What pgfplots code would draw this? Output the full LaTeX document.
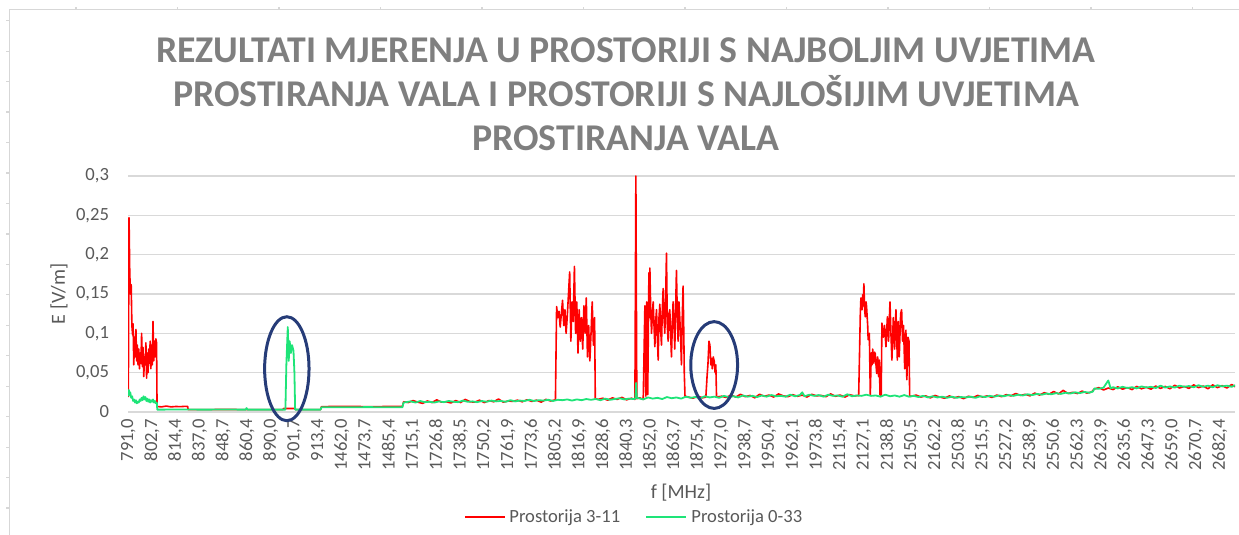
\documentclass[border=0pt]{standalone}
\usepackage{fontspec}
\setmainfont{Carlito}
\usepackage{pgfplots}
\pgfplotsset{compat=1.18}
\definecolor{redl}{RGB}{255,0,0}
\definecolor{greenl}{RGB}{30,228,120}
\definecolor{gridgrey}{RGB}{217,217,217}
\definecolor{ticktext}{RGB}{89,89,89}
\definecolor{titlegrey}{RGB}{127,127,127}
\definecolor{ellblue}{RGB}{38,60,120}
\definecolor{rulergrey}{RGB}{215,215,215}
\begin{document}
\begin{tikzpicture}
\path[use as bounding box] (0,0) rectangle (619.5pt,267.5pt);
% page ruler frame
\draw[rulergrey, line width=0.6pt] (4.7pt,0) -- (4.7pt,262.9pt) -- (619.5pt,262.9pt);
\foreach \k in {0,...,16} \draw[rulergrey,line width=0.6pt] (3pt,{(535-20.7-30.46*\k)*0.5pt}) -- (4.7pt,{(535-20.7-30.46*\k)*0.5pt});
\foreach \k in {0,...,11} \draw[rulergrey,line width=0.6pt] ({38pt+50.75pt*\k},262.9pt) -- ++(0,1.3pt);
% title
\node[font=\fontsize{18.9}{22}\selectfont\bfseries, text=titlegrey, align=center] at (313pt,220.5pt)
 {REZULTATI MJERENJA U PROSTORIJI S NAJBOLJIM UVJETIMA\\PROSTIRANJA VALA I PROSTORIJI S NAJLOŠIJIM UVJETIMA\\PROSTIRANJA VALA};
\node[rotate=90, font=\fontsize{10}{12}\selectfont, text=ticktext] at (29.5pt,120.5pt) {E [V/m]};
\node[font=\fontsize{10}{12}\selectfont, text=ticktext] at (340.5pt,21pt) {f [MHz]};
% legend
\fill[redl] (232.5pt,8.25pt) rectangle (252.5pt,9.25pt);
\node[anchor=west, inner sep=0pt, font=\fontsize{9.3}{11}\selectfont, text=ticktext] at (254.5pt,8.75pt) {Prostorija 3-11};
\fill[greenl] (323pt,8.25pt) rectangle (343pt,9.25pt);
\node[anchor=west, inner sep=0pt, font=\fontsize{9.3}{11}\selectfont, text=ticktext] at (345.5pt,8.75pt) {Prostorija 0-33};
\begin{axis}[
 at={(64pt,61.5pt)}, anchor=south west, scale only axis,
 width=553.5pt, height=118pt,
 xmin=-0.114, xmax=46.54, ymin=0, ymax=0.3,
 xtick={-0.1,0.9,...,45.9},
 xticklabels={{791,0},{802,7},{814,4},{837,0},{848,7},{860,4},{890,0},{901,7},{913,4},{1462,0},{1473,7},{1485,4},{1715,1},{1726,8},{1738,5},{1750,2},{1761,9},{1773,6},{1805,2},{1816,9},{1828,6},{1840,3},{1852,0},{1863,7},{1875,4},{1927,0},{1938,7},{1950,4},{1962,1},{1973,8},{2115,4},{2127,1},{2138,8},{2150,5},{2162,2},{2503,8},{2515,5},{2527,2},{2538,9},{2550,6},{2562,3},{2623,9},{2635,6},{2647,3},{2659,0},{2670,7},{2682,4}},
 xticklabel style={rotate=90, anchor=east, font=\fontsize{9.3}{10}\selectfont, text=ticktext},
 ytick={0,0.05,0.1,0.15,0.2,0.25,0.3},
 yticklabels={0,{0,05},{0,1},{0,15},{0,2},{0,25},{0,3}},
 yticklabel style={font=\fontsize{9.3}{10}\selectfont, text=ticktext, xshift=-6pt},
 ymajorgrids, grid style={gridgrey, line width=0.7pt},
 axis x line*=bottom, axis y line*=left,
 x axis line style={gridgrey, line width=0.7pt, -}, y axis line style={draw=none},
 major tick length=0pt,
 clip mode=individual,
]
\addplot[draw=redl, line width=0.8pt, line join=round] coordinates {
(-0.10,0.019)(-0.07,0.247)(-0.04,0.177)(-0.01,0.15)(0.02,0.162)(0.05,0.11)(0.08,0.098)(0.10,0.112)(0.13,0.06)(0.16,0.095)
(0.19,0.07)(0.22,0.105)(0.25,0.065)(0.28,0.085)(0.31,0.06)(0.34,0.08)(0.37,0.055)(0.40,0.075)(0.43,0.062)(0.46,0.1)
(0.49,0.058)(0.52,0.082)(0.55,0.045)(0.58,0.07)(0.61,0.06)(0.64,0.088)(0.67,0.043)(0.70,0.075)(0.73,0.05)(0.76,0.08)
(0.79,0.062)(0.82,0.09)(0.85,0.055)(0.88,0.085)(0.91,0.06)(0.94,0.115)(0.97,0.065)(1.00,0.09)(1.03,0.07)(1.06,0.093)
(1.09,0.088)(1.11,0.007)(1.3,0.0065)(1.5,0.0075)(1.7,0.0065)(1.9,0.007)(2.1,0.0068)(2.3,0.0072)(2.4,0.007)(2.42,0.003)
(3,0.003)(4,0.0032)(5,0.003)(6,0.0031)(6.4,0.003)(6.45,0.0045)(6.9,0.0045)(6.95,0.003)(7.5,0.003)(8.0,0.003)
(8.04,0.0068)(9,0.0072)(10,0.0068)(11,0.007)(11.45,0.007)
(11.5,0.013)(11.7,0.012)(11.9,0.0145)(12.1,0.0125)(12.3,0.011)(12.5,0.014)(12.7,0.012)(12.9,0.0155)(13.1,0.0125)(13.3,0.013)
(13.5,0.0115)(13.7,0.0145)(13.9,0.012)(14.1,0.016)(14.3,0.013)(14.5,0.0125)(14.7,0.015)(14.9,0.012)(15.1,0.0145)(15.3,0.013)
(15.5,0.0165)(15.7,0.0125)(15.9,0.014)(16.1,0.0135)(16.3,0.015)(16.5,0.013)(16.7,0.0155)(16.9,0.0135)(17.1,0.015)(17.3,0.0125)
(17.5,0.016)(17.7,0.014)(17.9,0.0155)
(17.95,0.134)(18.00,0.12)(18.05,0.128)(18.10,0.108)(18.15,0.125)(18.20,0.142)(18.25,0.11)(18.30,0.13)(18.35,0.1)(18.40,0.122)
(18.45,0.15)(18.50,0.178)(18.55,0.09)(18.60,0.14)(18.65,0.115)(18.70,0.185)(18.75,0.1)(18.80,0.14)(18.85,0.075)(18.90,0.13)
(18.95,0.09)(19.00,0.12)(19.05,0.08)(19.10,0.135)(19.15,0.1)(19.20,0.145)(19.25,0.07)(19.30,0.11)(19.35,0.065)(19.40,0.1)
(19.45,0.14)(19.50,0.085)(19.55,0.12)(19.58,0.017)
(19.7,0.016)(19.9,0.0175)(20.1,0.015)(20.3,0.018)(20.5,0.016)(20.7,0.0185)(20.9,0.0155)(21.1,0.0175)(21.25,0.016)(21.29,0.3)
(21.33,0.017)(21.45,0.018)(21.6,0.016)
(21.67,0.135)(21.71,0.02)(21.75,0.14)(21.79,0.022)(21.84,0.177)(21.86,0.12)(21.88,0.183)(21.915,0.13)(21.95,0.10)(21.985,0.125)
(22.02,0.14)(22.055,0.11)(22.09,0.083)(22.125,0.115)(22.16,0.13)(22.195,0.095)(22.23,0.066)(22.265,0.12)(22.30,0.137)(22.335,0.105)
(22.37,0.085)(22.405,0.13)(22.44,0.157)(22.475,0.12)(22.51,0.10)(22.545,0.145)(22.58,0.202)(22.615,0.11)(22.65,0.09)(22.685,0.125)
(22.72,0.13)(22.755,0.1)(22.79,0.07)(22.825,0.11)(22.86,0.14)(22.895,0.115)(22.93,0.08)(22.965,0.13)(23.00,0.18)(23.035,0.125)
(23.07,0.09)(23.105,0.14)(23.14,0.12)(23.175,0.095)(23.21,0.06)(23.245,0.12)(23.28,0.16)(23.31,0.1)(23.33,0.05)(23.36,0.02)
(23.5,0.019)(23.7,0.0175)(23.9,0.02)(24.1,0.018)(24.24,0.019)
(24.29,0.045)(24.33,0.062)(24.37,0.09)(24.41,0.085)(24.45,0.06)(24.48,0.068)(24.51,0.055)(24.55,0.07)(24.59,0.065)(24.63,0.05)
(24.66,0.06)(24.69,0.019)
(24.9,0.02)(25.1,0.0185)(25.3,0.0215)(25.5,0.019)(25.7,0.0225)(25.9,0.0195)(26.1,0.021)(26.3,0.018)(26.5,0.0225)(26.7,0.02)
(26.9,0.0215)(27.1,0.019)(27.3,0.023)(27.5,0.0205)(27.7,0.0195)(27.9,0.022)(28.1,0.02)(28.3,0.0215)(28.5,0.019)(28.7,0.0225)
(28.9,0.0205)(29.1,0.021)(29.3,0.0195)(29.5,0.023)(29.7,0.02)(29.9,0.0215)(30.1,0.019)(30.3,0.022)(30.5,0.0205)(30.68,0.021)
(30.70,0.05)(30.75,0.126)(30.775,0.145)(30.82,0.13)(30.85,0.149)(30.87,0.135)(30.90,0.163)(30.93,0.13)(30.96,0.121)(30.99,0.14)
(31.01,0.135)(31.06,0.11)(31.08,0.092)(31.13,0.1)(31.17,0.022)(31.21,0.075)(31.24,0.06)(31.27,0.08)(31.30,0.07)(31.32,0.062)
(31.35,0.076)(31.38,0.074)(31.41,0.06)(31.44,0.049)(31.48,0.07)(31.52,0.045)(31.55,0.066)(31.58,0.022)(31.63,0.02)(31.66,0.113)
(31.72,0.095)(31.77,0.11)(31.83,0.083)(31.89,0.121)(31.94,0.09)(32.00,0.14)(32.04,0.1)(32.08,0.066)(32.14,0.12)(32.195,0.08)
(32.25,0.13)(32.31,0.066)(32.35,0.115)(32.39,0.07)(32.45,0.125)(32.49,0.13)(32.53,0.09)(32.57,0.11)(32.62,0.055)(32.67,0.104)
(32.71,0.041)(32.76,0.095)(32.80,0.09)(32.83,0.02)
(32.9,0.02)(33.1,0.0215)(33.3,0.019)(33.5,0.0205)(33.7,0.018)(33.9,0.021)(34.1,0.019)(34.3,0.0175)(34.5,0.0205)(34.7,0.018)
(34.9,0.0195)(35.1,0.017)(35.3,0.02)(35.5,0.0185)(35.7,0.021)(35.9,0.019)(36.1,0.0205)(36.3,0.0185)(36.5,0.0215)(36.7,0.0195)
(36.9,0.022)(37.1,0.0205)(37.3,0.0235)(37.5,0.021)(37.7,0.0225)(37.9,0.0205)(38.1,0.024)(38.3,0.0215)(38.5,0.0245)(38.7,0.0225)
(38.9,0.026)(39.1,0.023)(39.3,0.0275)(39.5,0.0235)(39.7,0.025)(39.9,0.0235)(40.1,0.0265)(40.3,0.024)(40.5,0.0255)(40.6,0.029)
(40.8,0.031)(41.0,0.028)(41.2,0.0305)(41.4,0.0285)(41.6,0.032)(41.8,0.029)(42.0,0.031)(42.2,0.0285)(42.4,0.0325)(42.6,0.0295)
(42.8,0.0315)(43.0,0.029)(43.2,0.033)(43.4,0.03)(43.6,0.0325)(43.8,0.0295)(44.0,0.034)(44.2,0.0305)(44.4,0.0325)(44.6,0.03)
(44.8,0.0345)(45.0,0.031)(45.2,0.033)(45.4,0.0295)(45.6,0.0345)(45.8,0.031)(46.0,0.0335)(46.2,0.0305)(46.4,0.035)(46.55,0.032)
};
\addplot[draw=greenl, line width=0.9pt, line join=round] coordinates {
(-0.10,0.02)(-0.08,0.028)(-0.05,0.022)(-0.02,0.025)(0.02,0.018)(0.06,0.02)(0.10,0.014)(0.14,0.016)(0.18,0.012)(0.22,0.015)
(0.26,0.011)(0.30,0.013)(0.34,0.012)(0.38,0.016)(0.42,0.014)(0.46,0.018)(0.50,0.015)(0.54,0.02)(0.58,0.016)(0.62,0.019)
(0.66,0.014)(0.70,0.017)(0.74,0.013)(0.78,0.016)(0.82,0.012)(0.86,0.015)(0.90,0.013)(0.94,0.016)(0.98,0.012)(1.02,0.014)
(1.06,0.011)(1.1,0.012)(1.12,0.003)
(1.3,0.003)(2,0.0032)(3,0.003)(4,0.0031)(4.85,0.003)(4.88,0.005)(4.92,0.003)(6,0.003)(6.52,0.003)(6.56,0.06)
(6.62,0.108)(6.66,0.065)(6.70,0.09)(6.75,0.075)(6.80,0.085)(6.86,0.078)(6.90,0.05)(6.93,0.003)(7.5,0.003)(8.0,0.003)
(8.04,0.006)(9,0.006)(10,0.0062)(11,0.006)(11.45,0.006)
(11.5,0.012)(11.6,0.0125)(11.8,0.0135)(12.0,0.012)(12.2,0.014)(12.4,0.0125)(12.6,0.013)(12.8,0.012)(13.0,0.0135)(13.2,0.0125)
(13.4,0.014)(13.6,0.013)(13.8,0.0125)(14.0,0.0145)(14.2,0.013)(14.4,0.0135)(14.6,0.0125)(14.8,0.014)(15.0,0.013)(15.2,0.0145)
(15.4,0.0135)(15.6,0.014)(15.8,0.013)(16.0,0.015)(16.2,0.0135)(16.4,0.0145)(16.6,0.014)(16.8,0.0155)(17.0,0.014)(17.2,0.015)
(17.4,0.0145)(17.6,0.0155)(17.8,0.014)(18.0,0.0155)(18.2,0.015)(18.4,0.016)(18.6,0.0145)(18.8,0.016)(19.0,0.015)(19.2,0.0165)
(19.4,0.0155)(19.6,0.0165)(19.8,0.015)(20.0,0.017)(20.2,0.0155)(20.4,0.0165)(20.6,0.0175)(20.8,0.016)(21.0,0.017)(21.2,0.0165)
(21.27,0.017)(21.3,0.037)(21.33,0.018)(21.4,0.0175)(21.6,0.016)(21.8,0.0185)(22.0,0.017)(22.2,0.018)(22.4,0.0165)(22.6,0.019)
(22.8,0.0175)(23.0,0.0185)(23.2,0.017)(23.4,0.0195)(23.6,0.018)(23.8,0.019)(24.0,0.0175)(24.2,0.02)(24.4,0.0185)(24.6,0.0195)
(24.8,0.018)(25.0,0.0205)(25.2,0.019)(25.4,0.02)(25.6,0.0185)(25.8,0.021)(26.0,0.0195)(26.2,0.0205)(26.4,0.019)(26.6,0.021)
(26.8,0.0195)(27.0,0.0215)(27.2,0.02)(27.4,0.0205)(27.6,0.0195)(27.8,0.022)(28.0,0.02)(28.2,0.0215)(28.3,0.025)(28.4,0.02)
(28.6,0.022)(28.8,0.0205)(29.0,0.0215)(29.2,0.0195)(29.4,0.022)(29.6,0.0205)(29.8,0.021)(30.0,0.0195)(30.2,0.0225)(30.4,0.02)
(30.6,0.021)(30.8,0.0205)(31.0,0.022)(31.2,0.0205)(31.4,0.021)(31.6,0.0195)(31.8,0.022)(32.0,0.02)(32.2,0.021)(32.4,0.0195)
(32.6,0.0215)(32.8,0.0195)(33.0,0.0205)(33.2,0.019)(33.4,0.0205)(33.6,0.0185)(33.8,0.02)(34.0,0.0185)(34.2,0.0195)(34.4,0.018)
(34.6,0.0195)(34.8,0.018)(35.0,0.019)(35.2,0.0185)(35.4,0.0195)(35.6,0.018)(35.8,0.02)(36.0,0.019)(36.2,0.0205)(36.4,0.0195)
(36.6,0.021)(36.8,0.02)(37.0,0.0215)(37.2,0.0205)(37.4,0.022)(37.6,0.021)(37.8,0.0225)(38.0,0.0215)(38.2,0.023)(38.4,0.022)
(38.6,0.0235)(38.8,0.0225)(39.0,0.024)(39.2,0.023)(39.4,0.0245)(39.6,0.0235)(39.8,0.025)(40.0,0.024)(40.2,0.0255)(40.4,0.0245)
(40.55,0.026)(40.62,0.03)(40.8,0.0295)(41.0,0.031)(41.2,0.04)(41.3,0.03)(41.4,0.0315)(41.6,0.03)(41.8,0.032)(42.0,0.0305)
(42.2,0.0315)(42.4,0.03)(42.6,0.0325)(42.8,0.031)(43.0,0.032)(43.2,0.0305)(43.4,0.0335)(43.6,0.031)(43.8,0.0325)(44.0,0.031)
(44.2,0.0335)(44.4,0.032)(44.6,0.033)(44.8,0.0315)(45.0,0.034)(45.2,0.032)(45.4,0.0335)(45.6,0.0315)(45.8,0.034)(46.0,0.0325)
(46.2,0.0335)(46.4,0.032)(46.55,0.034)
};
\draw[ellblue, line width=1.5pt] (axis cs:6.58,0.055) ellipse [x radius=11.1pt, y radius=26pt];
\draw[ellblue, line width=1.5pt] (axis cs:24.59,0.0597) ellipse [x radius=11.7pt, y radius=21.7pt];
\end{axis}
\end{tikzpicture}
\end{document}
